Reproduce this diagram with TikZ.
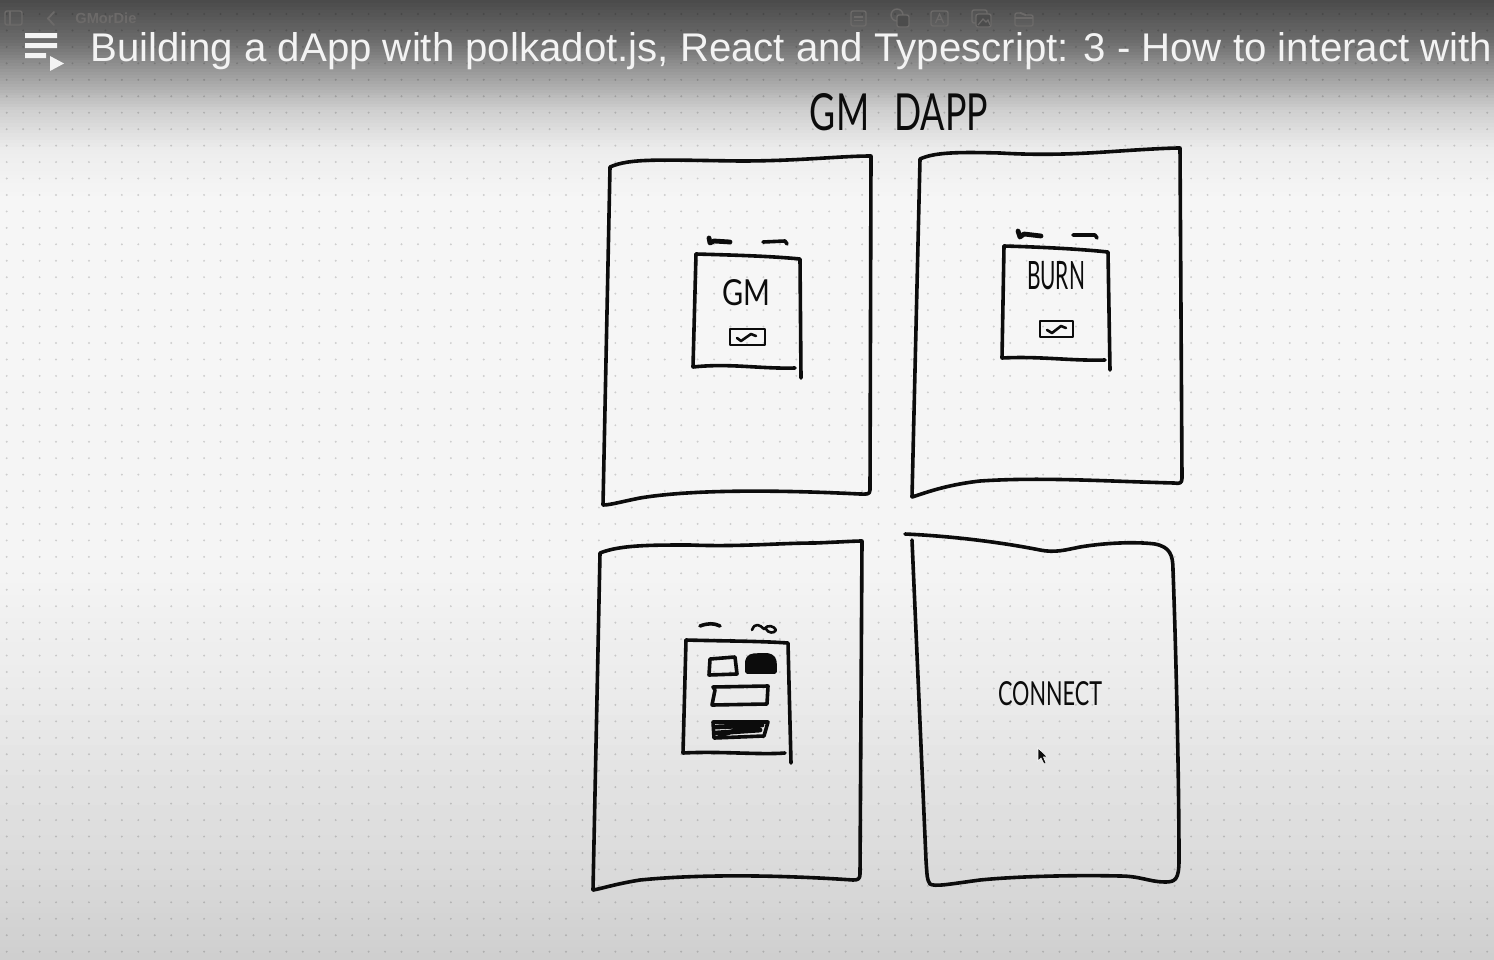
\documentclass[tikz,border=0pt]{standalone}
\usepackage{fontspec}
\setmainfont{Liberation Sans}
\newfontfamily\handfont{Lato}
\definecolor{inkline}{RGB}{12,12,12}
\definecolor{uigray}{RGB}{108,106,105}
\definecolor{titlewhite}{RGB}{243,243,243}
\tikzset{
  sketch/.style={draw=inkline, line width=1.8pt, line cap=round, line join=round},
  thinsketch/.style={draw=inkline, line width=1.3pt, line cap=round, line join=round},
  scribble/.style={draw=inkline, line width=2.4pt, line cap=round, line join=round},
  handtext/.style={inner sep=0pt, text=inkline},
  uiicon/.style={draw=uigray, line width=0.7pt, rounded corners=1pt},
}
\begin{document}
\begin{tikzpicture}[x=0.5pt, y=-0.5pt]
  \useasboundingbox (0,0) rectangle (1494,959);
  % background fade, band by band
  \foreach \ya/\yb/\ga/\gb in {0/40/71/58, 40/75/58/38, 75/110/38/19, 110/150/19/7, 150/200/7/3.5, 200/560/3.5/4, 560/700/4/8, 700/880/8/15, 880/960/15/19} {
    \foreach \k in {0,...,11} {
      \pgfmathsetmacro\yy{\ya+(\yb-\ya)*\k/12}
      \pgfmathsetmacro\yyy{\ya+(\yb-\ya)*(\k+1)/12+0.6}
      \pgfmathsetmacro\gg{\ga+(\gb-\ga)*(\k+0.5)/12}
      \fill[black!\gg] (0,\yy) rectangle (1494,\yyy);
    }
  }
  % dot grid of the whiteboard
  \foreach \i in {0,...,90} {
    \foreach \j in {0,...,57} {
      \fill[black, opacity=0.16] (6.7+16.45*\i, 14+16.45*\j) circle (1.1);
    }
  }

  % video header
  \draw[uiicon] (5,11) rectangle (22,25);
  \draw[uigray, line width=0.7pt] (10,11) -- (10,25);
  \draw[uigray, line width=0.9pt, line cap=round] (54,12) -- (48,18.5) -- (54,25);
  \node[anchor=west, inner sep=0pt, text=uigray] (appname) at (75,18.5) {\resizebox{30.5pt}{!}{\bfseries GMorDie}};
  \draw[uiicon] (851,11) rectangle (866,26);
  \draw[uigray, line width=0.6pt] (854,17) -- (863,17) (854,20.5) -- (863,20.5);
  \draw[uiicon] (897,15) circle (6);
  \draw[uiicon, fill=black!70] (897,15) rectangle (909,27);
  \draw[uiicon] (931,11) rectangle (948,26);
  \draw[uigray, line width=0.6pt] (935.5,23) -- (939.5,14) -- (943.5,23) (937,19.5) -- (942,19.5);
  \draw[uiicon] (972,10) rectangle (987,23);
  \draw[uiicon, fill=black!70] (976,14) rectangle (991,27);
  \draw[uigray, line width=0.6pt] (978,25) -- (983,19) -- (986,22) -- (988,20) -- (990,25);
  \draw[uiicon] (1015,13) -- (1022,13) -- (1024,15) -- (1033,15) -- (1033,26) -- (1015,26) -- cycle;
  \draw[uigray, line width=0.6pt] (1015,18) -- (1033,18);
  \fill[titlewhite] (25,33) rectangle (57,38) (25,43) rectangle (57,48) (25,53) rectangle (46,58);
  \fill[titlewhite] (50,56) -- (64,63.5) -- (50,71) -- cycle;
  \node[anchor=base west, inner sep=0pt, text=titlewhite] (title) at (90,61) {\resizebox{701pt}{14.5pt}{Building a dApp with polkadot.js, React and Typescript: 3 - How to interact with}};

  \node[handtext] (apptitle) at (899,112) {\resizebox{89pt}{18.5pt}{\handfont GM\hspace{0.7em}DAPP}};

  % four screens
  \draw[sketch] (603,505) -- (610,167) .. controls (630,158) and (660,160) .. (740,161) .. controls (800,161) and (840,156) .. (871,156) -- (870,490) .. controls (870,495) and (866,494) .. (860,494) .. controls (800,491) and (700,488) .. (640,498) .. controls (620,502) and (610,505) .. (603,505);
  \draw[sketch] (912,497) -- (920,159) .. controls (935,152) and (960,152) .. (1000,153) .. controls (1050,156) and (1090,153) .. (1120,151) .. controls (1150,149) and (1170,148) .. (1180,148) -- (1182,478) .. controls (1182,483) and (1180,484) .. (1174,483) .. controls (1100,481) and (1040,477) .. (980,481) .. controls (945,485) and (925,493) .. (912,497);
  \draw[sketch] (593,890) -- (600,553) .. controls (620,545) and (650,545) .. (690,545) .. controls (740,547) and (780,543) .. (815,543) .. controls (840,542) and (855,541) .. (862,541) -- (860,874) .. controls (860,879) and (858,880) .. (853,880) .. controls (780,875) and (700,874) .. (640,880) .. controls (615,884) and (600,889) .. (593,890);
  \draw[sketch] (905,534) .. controls (950,536) and (1000,542) .. (1040,550) .. controls (1055,553) and (1065,550) .. (1080,547) .. controls (1110,542) and (1140,542) .. (1155,544) .. controls (1170,547) and (1173,555) .. (1173,570) .. controls (1176,650) and (1179,780) .. (1179,860) .. controls (1179,880) and (1175,882) .. (1165,882) .. controls (1150,882) and (1140,876) .. (1120,876) .. controls (1080,875) and (1020,876) .. (980,880) .. controls (950,884) and (935,887) .. (930,884) .. controls (927,880) and (927,875) .. (926,860) -- (912,540);

  % screen 1: GM
  \draw[scribble] (709,238) -- (710,243) -- (714,241) -- (730,242);
  \draw[sketch] (763,242) -- (785,241) -- (787,244);
  \draw[sketch] (696,254) .. controls (730,255) and (770,256) .. (800,259) -- (801,378);
  \draw[sketch] (696,254) -- (693,367) .. controls (730,363) and (760,369) .. (795,368);
  \node[handtext] (gmlabel) at (746,293) {\resizebox{24pt}{13pt}{\handfont GM}};
  \draw[thinsketch] (730,329) rectangle (765,345);
  \draw[thinsketch] (737,338) -- (741,341) -- (751,334) -- (756,336);

  % screen 2: BURN
  \draw[scribble] (1018,231) -- (1020,237) -- (1024,234) -- (1041,236);
  \draw[sketch] (1073,235) -- (1095,235) -- (1097,238);
  \draw[sketch] (1004,246) .. controls (1040,247) and (1080,249) .. (1108,252) -- (1110,370);
  \draw[sketch] (1004,246) -- (1002,358) .. controls (1040,356) and (1070,361) .. (1105,360);
  \node[handtext] (burnlabel) at (1056,276) {\resizebox{29pt}{14pt}{\handfont BURN}};
  \draw[thinsketch] (1040,321) rectangle (1073,337);
  \draw[thinsketch] (1047,330) -- (1052,333) -- (1061,326) -- (1066,328);

  % screen 3: form
  \draw[sketch] (700,626) .. controls (708,623) and (714,623) .. (720,626);
  \draw[thinsketch] (752,630) .. controls (755,622) and (760,625) .. (764,629) .. controls (768,624) and (774,626) .. (776,630) .. controls (774,634) and (768,633) .. (766,629);
  \draw[sketch] (686,640) .. controls (720,641) and (760,641) .. (788,643) -- (791,763);
  \draw[sketch] (686,640) -- (683,753) .. controls (720,751) and (760,755) .. (785,753);
  \draw[sketch] (710,659) -- (735,657) -- (737,674) -- (709,675) -- cycle;
  \filldraw[sketch, fill=inkline] (747,661) .. controls (748,656) and (752,655) .. (758,655) -- (768,655) .. controls (773,656) and (775,659) .. (775,664) -- (775,672) -- (747,672) -- cycle;
  \draw[sketch] (715,690) -- (713,687) -- (768,686) -- (767,704) -- (712,705) -- (715,690);
  \draw[sketch] (713,722) -- (768,722) -- (764,736) -- (714,738) -- cycle;
  \draw[scribble] (716,727) -- (762,725) (716,733) -- (760,730) (720,735) -- (752,726);

  % screen 4: connect
  \node[handtext] (connectlabel) at (1050,694) {\resizebox{52pt}{12pt}{\handfont CONNECT}};
  \filldraw[fill=inkline, draw=white, line width=0.3pt] (1038,748) -- (1038,761) -- (1041,758) -- (1044,764) -- (1046,763) -- (1043.5,757) -- (1047.5,757) -- cycle;
\end{tikzpicture}
\end{document}
